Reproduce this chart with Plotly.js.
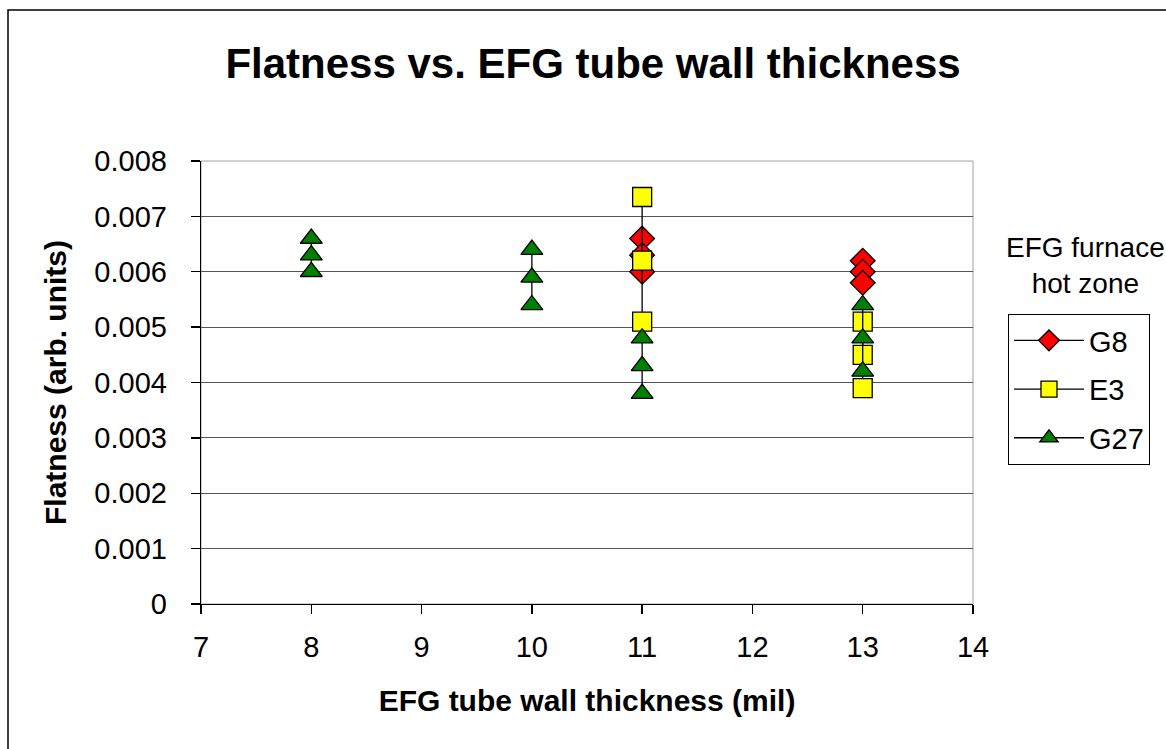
<!DOCTYPE html>
<html>
<head>
<meta charset="utf-8">
<script src="https://cdn.plot.ly/plotly-3.0.1.min.js"></script>
<style>
html,body{margin:0;padding:0;background:#fff;}
#chart{width:1166px;height:749px;}
</style>
</head>
<body>
<div id="chart"></div>
<script>
// Data (null separates the groups at each thickness)
const g8X = [11, 11, 11, null, 13, 13, 13];
const g8Y = [0.0066, 0.0063, 0.0060, null, 0.0062, 0.0060, 0.0058];
const e3X = [11, 11, 11, null, 13, 13, 13];
const e3Y = [0.00735, 0.0062, 0.0051, null, 0.0051, 0.0045, 0.0039];
const g27X = [8, 8, 8, null, 10, 10, 10, null, 11, 11, 11, null, 13, 13, 13];
const g27Y = [0.0066, 0.0063, 0.0060, null, 0.0064, 0.0059, 0.0054, null, 0.0048, 0.0043, 0.0038, null, 0.0054, 0.0048, 0.0042];
const seriesNames = ['G8', 'E3', 'G27'];
const yTickVals = [0, 0.001, 0.002, 0.003, 0.004, 0.005, 0.006, 0.007, 0.008];
const yTickText = ['0', '0.001', '0.002', '0.003', '0.004', '0.005', '0.006', '0.007', '0.008'];
const xTickVals = [7, 8, 9, 10, 11, 12, 13, 14];

const FONT = 'Liberation Sans, Arial, sans-serif';

function mk(name, x, y, symbol, color, group) {
  return {
    type: 'scatter', mode: 'lines+markers', name: name, x: x, y: y,
    connectgaps: false, legendgroup: group,
    line: {color: '#000000', width: 1.3},
    marker: {symbol: symbol, size: 19, color: color, line: {color: '#000000', width: 1.3}}
  };
}

const traces = [
  mk(seriesNames[0], g8X, g8Y, 'diamond', '#ff0000', 'a'),
  mk(seriesNames[1], e3X, e3Y, 'square', '#ffff00', 'b'),
  mk(seriesNames[2], g27X, g27Y, 'triangle-up', '#008000', 'c')
];

const L = 201, R = 973, T = 161, B = 604, W = 1166, H = 749;
const pw = R - L, ph = B - T;
function px(xp) { return (xp - L) / pw; }
function py(yp) { return (B - yp) / ph; }

const layout = {
  width: W, height: H,
  margin: {l: L, r: W - R, t: T, b: H - B, pad: 0},
  paper_bgcolor: '#ffffff', plot_bgcolor: '#ffffff',
  font: {family: FONT, size: 29, color: '#000000'},
  showlegend: true,
  title: {
    text: '<b>Flatness vs. EFG tube wall thickness</b>',
    font: {family: FONT, size: 42, color: '#000'},
    x: 593 / W, xanchor: 'center', xref: 'container',
    y: 1 - 63 / H, yanchor: 'middle', yref: 'container'
  },
  xaxis: {
    range: [7, 14], tickmode: 'array', tickvals: xTickVals,
    showgrid: false, zeroline: false,
    showline: true, linecolor: '#000', linewidth: 1.3,
    ticks: 'outside', ticklen: 9, tickcolor: '#000', tickwidth: 1.3,
    tickfont: {family: FONT, size: 29}, ticklabelstandoff: 8,
    title: {text: '<b>EFG tube wall thickness (mil)</b>', font: {family: FONT, size: 30}, standoff: 28},
    fixedrange: true
  },
  yaxis: {
    range: [0, 0.008], tickmode: 'array', tickvals: yTickVals, ticktext: yTickText,
    showgrid: true, gridcolor: '#555555', gridwidth: 1,
    zeroline: false,
    showline: true, linecolor: '#000', linewidth: 1.3,
    ticks: 'outside', ticklen: 9, tickcolor: '#000', tickwidth: 1.3,
    tickfont: {family: FONT, size: 29}, ticklabelstandoff: 18,
    title: {text: '<b>Flatness (arb. units)</b>', font: {family: FONT, size: 30}, standoff: 18},
    fixedrange: true
  },
  legend: {
    x: px(1008), xanchor: 'left', y: py(314), yanchor: 'top',
    bordercolor: '#000', borderwidth: 1, bgcolor: '#fff',
    font: {family: FONT, size: 29}, tracegroupgap: 8,
    itemwidth: 70
  },
  annotations: [{
    xref: 'paper', yref: 'paper', x: px(1085), y: py(265),
    xanchor: 'center', yanchor: 'middle', showarrow: false,
    text: 'EFG furnace<br>hot zone', align: 'center',
    font: {family: FONT, size: 28, color: '#000'}
  }],
  shapes: [
    {type: 'rect', xref: 'paper', yref: 'paper', x0: 0, x1: 1, y0: 0, y1: 1,
     line: {color: '#a0a0a0', width: 1}, layer: 'below'},
    {type: 'rect', xref: 'paper', yref: 'paper', x0: px(8), x1: px(1175), y0: py(760), y1: py(10),
     line: {color: '#000', width: 1.5}, layer: 'below'}
  ]
};

Plotly.newPlot('chart', traces, layout, {displayModeBar: false, staticPlot: true});
</script>
</body>
</html>
